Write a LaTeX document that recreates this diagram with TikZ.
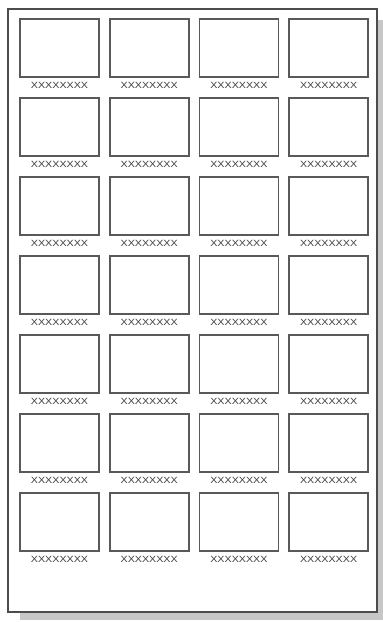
\documentclass[tikz,border=0pt]{standalone}
\usepackage{fontspec}
\newfontfamily\capfont{Liberation Sans}
\usetikzlibrary{positioning}
\tikzset{
  shadow/.style={fill=black!22, draw=none},
  page/.style={draw=black!70, fill=white, line width=1.4pt},
  thumb/.style={draw=black!65, fill=white, line width=1.6pt, minimum width=79pt, minimum height=58pt, inner sep=0pt},
  caption/.style={font=\capfont\fontsize{9}{9}\selectfont, text=black!75, inner sep=0pt, xscale=1.19}
}

\begin{document}
\begin{tikzpicture}[x=1pt, y=-1pt]
  \useasboundingbox (0,0) rectangle (383,622);
  \fill[white] (0,0) rectangle (383,622);
  \path[shadow] (20,20) rectangle (383,620);
  \path[page] (8,9) rectangle (377,612);
  \foreach \i in {0,...,3}{
    \foreach \j in {0,...,6}{
      \node[thumb] (t-\i-\j) at ({59.5+89.7*\i},{48+79*\j}) {};
      \node[caption, below=4.5pt of t-\i-\j] (c-\i-\j) {XXXXXXXX};
    }
  }
\end{tikzpicture}
\end{document}
